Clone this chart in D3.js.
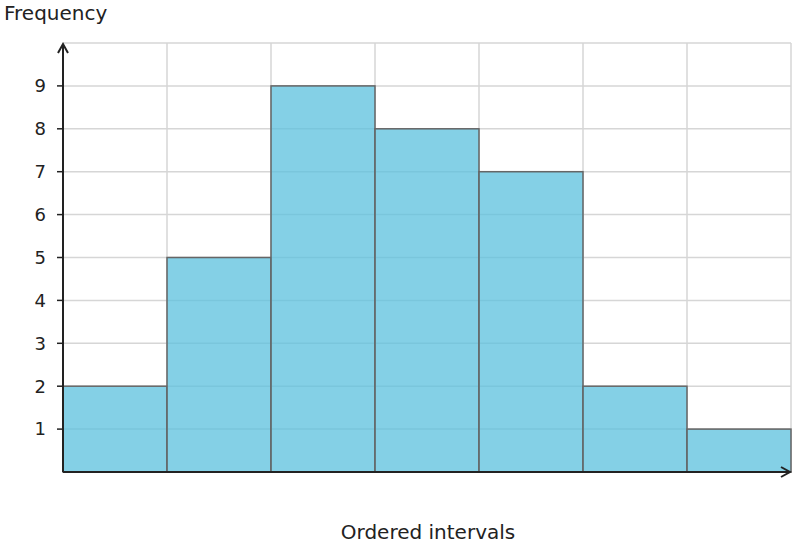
<!DOCTYPE html>
<html><head><meta charset="utf-8">
<script src="https://cdn.jsdelivr.net/npm/d3@7"></script>
<style>body{margin:0;background:#fff}text{font-family:"DejaVu Sans",sans-serif;fill:#222}</style>
</head><body><div id="chart"></div>
<script>
var intervals = [0, 1, 2, 3, 4, 5, 6];
var frequencies = [2, 5, 9, 8, 7, 2, 1];
var yTicks = [1, 2, 3, 4, 5, 6, 7, 8, 9];

var svg = d3.select("#chart").append("svg").attr("width", 796).attr("height", 548);

var x = d3.scaleLinear().domain([0, 7]).range([63, 791]);
var y = d3.scaleLinear().domain([0, 10]).range([472, 43]);

// grid
svg.selectAll("line.hg").data(yTicks.concat([10])).enter().append("line")
    .attr("x1", 63).attr("x2", 791)
    .attr("y1", d => y(d)).attr("y2", d => y(d))
    .attr("stroke", "#d6d6d6").attr("stroke-width", 1.5);
svg.selectAll("line.vg").data(d3.range(1, 8)).enter().append("line")
    .attr("x1", d => x(d)).attr("x2", d => x(d))
    .attr("y1", 43).attr("y2", 472)
    .attr("stroke", "#d6d6d6").attr("stroke-width", 1.5);

// bars
svg.selectAll("rect").data(frequencies).enter().append("rect")
    .attr("x", (d, i) => x(intervals[i]))
    .attr("width", (d, i) => x(intervals[i] + 1) - x(intervals[i]))
    .attr("y", d => y(d))
    .attr("height", d => y(0) - y(d))
    .attr("fill", "#5bc0de").attr("fill-opacity", 0.75)
    .attr("stroke", "#666").attr("stroke-width", 1.5);

// axes
svg.append("line").attr("x1", 63).attr("x2", 63).attr("y1", 472).attr("y2", 45)
    .attr("stroke", "#222").attr("stroke-width", 2);
svg.append("line").attr("x1", 63).attr("x2", 789).attr("y1", 472).attr("y2", 472)
    .attr("stroke", "#222").attr("stroke-width", 2);
svg.append("path").attr("d", "M58,53 L63,44 L68,53").attr("fill", "none").attr("stroke", "#222").attr("stroke-width", 2);
svg.append("path").attr("d", "M781,467 L790,472 L781,477").attr("fill", "none").attr("stroke", "#222").attr("stroke-width", 2);

// y ticks
var yt = svg.selectAll("g.yt").data(yTicks).enter().append("g").attr("transform", d => `translate(0,${y(d)})`);
yt.append("line").attr("x1", 57).attr("x2", 63).attr("stroke", "#222").attr("stroke-width", 1.5);
yt.append("text").attr("x", 46).attr("dy", "0.35em").attr("text-anchor", "end")
    .style("font-size", "18px").text(d => d);

svg.append("text").attr("x", 4).attr("y", 20).style("font-size", "20px").text("Frequency");
svg.append("text").attr("x", 428).attr("y", 539).attr("text-anchor", "middle").style("font-size", "20px").text("Ordered intervals");
</script></body></html>
